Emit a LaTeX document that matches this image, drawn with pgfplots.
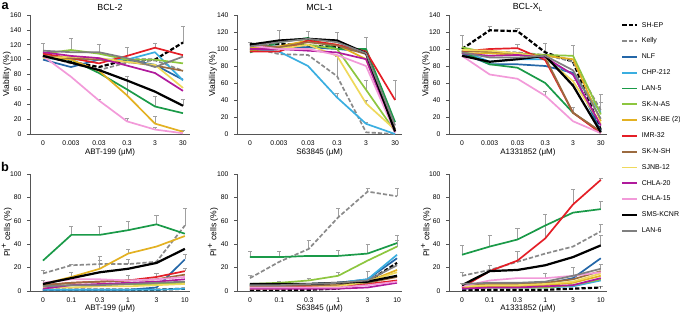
\documentclass[border=0pt]{standalone}
\usepackage{fontspec}
\setmainfont{Liberation Sans}
\usepackage{pgfplots}
\pgfplotsset{compat=1.18}
\definecolor{cNLF}{HTML}{2467A8}
\definecolor{cCHP}{HTML}{3AAEE0}
\definecolor{cLANfive}{HTML}{1A9A48}
\definecolor{cSKNAS}{HTML}{8DC63F}
\definecolor{cSKNBE}{HTML}{E3B122}
\definecolor{cIMR}{HTML}{E41E26}
\definecolor{cSKNSH}{HTML}{9C6B40}
\definecolor{cSJNB}{HTML}{EFD95C}
\definecolor{cCHLAtw}{HTML}{B01A9C}
\definecolor{cCHLAfi}{HTML}{F29AD9}
\definecolor{cLANsix}{HTML}{7F7F7F}
\definecolor{cKelly}{HTML}{8A8A8A}
\definecolor{cAxis}{HTML}{555555}
\definecolor{cErr}{HTML}{A0A0A0}
\pgfplotsset{
  shep/.style={black, line width=1.3pt, dash pattern=on 2.5pt off 1.2pt},
  kelly/.style={cKelly, line width=1pt, dash pattern=on 2.5pt off 1.2pt},
  nlf/.style={cNLF, line width=1pt},
  chp/.style={cCHP, line width=1pt},
  lanfive/.style={cLANfive, line width=1pt},
  sknas/.style={cSKNAS, line width=1pt},
  sknbe/.style={cSKNBE, line width=1pt},
  imr/.style={cIMR, line width=1pt},
  sknsh/.style={cSKNSH, line width=1pt},
  sjnb/.style={cSJNB, line width=1pt},
  chlatw/.style={cCHLAtw, line width=1pt},
  chlafi/.style={cCHLAfi, line width=1pt},
  sms/.style={black, line width=1.3pt},
  lansix/.style={cLANsix, line width=1pt},
  eb/.style={draw=none, forget plot, mark=none,
    error bars/.cd, y dir=plus, y explicit,
    error bar style={draw=cErr, line width=0.35pt, solid},
    error mark options={draw=cErr, rotate=90, mark size=1.2pt, line width=0.35pt, solid}},
  panel/.style={scale only axis, axis x line*=bottom, axis y line*=left,
    axis line style={cAxis, line width=0.4pt},
    xtick={0,...,5}, xtick style={draw=none},
    ytick style={cAxis, line width=0.4pt}, tick align=outside, major tick length=1.5pt,
    tick label style={font=\fontsize{4}{5}\selectfont},
    xticklabel style={yshift=1.3pt},
    /pgf/number format/assume math mode=true,
    clip=false, ymin=0,
    xlabel style={font=\fontsize{4.7}{5.5}\selectfont, at={(axis description cs:0.5,-0.152)}, anchor=center},
    ylabel style={font=\fontsize{5}{6}\selectfont, at={(axis description cs:-0.145,0.5)}, anchor=center},
    every axis title/.style={font=\fontsize{5.2}{6}\selectfont, at={(axis description cs:0.5,1)}, anchor=center, yshift=4.6pt},
    every axis plot/.append style={line join=round}},
  top/.style={panel, height=70pt, ymax=#1, ylabel={Viability (\%)},
    xticklabels={0,0.003,0.03,0.3,3,30}},
  bot/.style={panel, height=68.8pt, ymax=100, ytick={0,20,...,100}, ylabel={PI\textsuperscript{+} cells (\%)},
    xticklabels={0,0.1,0.3,1,3,10}},
}
\begin{document}
\begin{tikzpicture}
\useasboundingbox (0,0) rectangle (400pt,184.12pt);
\node[font=\bfseries\fontsize{7.5}{8}\selectfont] at (3pt,180.8pt) {a};
\node[font=\bfseries\fontsize{7.5}{8}\selectfont] at (3pt,86pt) {b};

% ---------------- BCL-2 viability
\begin{axis}[top=160, at={(17.65pt,105.29pt)}, anchor=south west, width=94.1pt,
  xmin=-0.464, xmax=5.25, ytick={0,20,...,160}, title={BCL-2}, xlabel={ABT-199 (μM)}]
\addplot[eb] coordinates {(0,108) +- (0,14) (1,113) +- (0,16) (2,110) +- (0,10) (3,105) +- (0,12) (4,116) +- (0,6) (5,123) +- (0,22)
 (3,72) +- (0,5) (4,37) +- (0,14) (4,14) +- (0,10) (5,38) +- (0,9) (5,3) +- (0,2) (2,45) +- (0,2) (3,17) +- (0,4) (4,6) +- (0,3) (3,52) +- (0,25)};
\addplot[shep] coordinates {(0,105)(1,97)(2,90)(3,100)(4,100)(5,123)};
\addplot[kelly] coordinates {(0,106)(1,95)(2,86)(3,96)(4,99)(5,85)};
\addplot[nlf] coordinates {(0,100)(1,90)(2,100)(3,100)(4,93)(5,73)};
\addplot[chp] coordinates {(0,102)(1,100)(2,100)(3,100)(4,110)(5,72)};
\addplot[lanfive] coordinates {(0,104)(1,100)(2,82)(3,60)(4,37)(5,28)};
\addplot[sknas] coordinates {(0,108)(1,113)(2,108)(3,100)(4,100)(5,95)};
\addplot[sknbe] coordinates {(0,105)(1,100)(2,85)(3,52)(4,14)(5,3)};
\addplot[imr] coordinates {(0,108)(1,102)(2,95)(3,105)(4,116)(5,106)};
\addplot[sknsh] coordinates {(0,105)(1,102)(2,100)(3,97)(4,92)(5,85)};
\addplot[sjnb] coordinates {(0,102)(1,104)(2,102)(3,97)(4,93)(5,62)};
\addplot[chlatw] coordinates {(0,110)(1,105)(2,102)(3,92)(4,82)(5,58)};
\addplot[chlafi] coordinates {(0,105)(1,77)(2,45)(3,17)(4,6)(5,1)};
\addplot[sms] coordinates {(0,105)(1,96)(2,86)(3,72)(4,57)(5,38)};
\addplot[lansix] coordinates {(0,112)(1,110)(2,110)(3,102)(4,90)(5,104)};
\end{axis}

% ---------------- MCL-1 viability
\begin{axis}[top=140, at={(139.4pt,105.29pt)}, anchor=south west, width=97.1pt,
  xmin=-0.448, xmax=5.24, ytick={0,20,...,140}, title={MCL-1}, xlabel={S63845 (μM)}]
\addplot[eb] coordinates {(0,106) +- (0,2) (1,110) +- (0,12) (2,113) +- (0,8) (3,110) +- (0,10) (4,100) +- (0,14) (5,40) +- (0,23)
 (3,68) +- (0,24) (3,43) +- (0,5) (4,52) +- (0,11) (4,36) +- (0,4) (4,12) +- (0,2)};
\addplot[shep] coordinates {(0,106)(1,106)(2,104)(3,102)(4,97)(5,3)};
\addplot[kelly] coordinates {(0,102)(1,94)(2,93)(3,68)(4,2)(5,0)};
\addplot[nlf] coordinates {(0,104)(1,103)(2,102)(3,100)(4,97)(5,5)};
\addplot[chp] coordinates {(0,100)(1,97)(2,80)(3,43)(4,12)(5,0)};
\addplot[lanfive] coordinates {(0,96)(1,108)(2,113)(3,100)(4,100)(5,14)};
\addplot[sknas] coordinates {(0,98)(1,102)(2,105)(3,100)(4,52)(5,3)};
\addplot[sknbe] coordinates {(0,101)(1,103)(2,110)(3,105)(4,88)(5,3)};
\addplot[imr] coordinates {(0,97)(1,97)(2,110)(3,105)(4,97)(5,40)};
\addplot[sknsh] coordinates {(0,105)(1,102)(2,108)(3,104)(4,94)(5,5)};
\addplot[sjnb] coordinates {(0,100)(1,100)(2,105)(3,92)(4,36)(5,5)};
\addplot[chlatw] coordinates {(0,100)(1,100)(2,98)(3,96)(4,88)(5,2)};
\addplot[chlafi] coordinates {(0,104)(1,100)(2,100)(3,93)(4,80)(5,2)};
\addplot[sms] coordinates {(0,105)(1,110)(2,112)(3,110)(4,95)(5,3)};
\addplot[lansix] coordinates {(0,103)(1,108)(2,112)(3,108)(4,95)(5,10)};
\end{axis}

% ---------------- BCL-XL viability
\begin{axis}[top=140, at={(264.1pt,105.29pt)}, anchor=south west, width=92.9pt,
  xmin=-0.468, xmax=5.22, ytick={0,20,...,140}, title={BCL-X\textsubscript{L}}, xlabel={A1331852 (μM)},
  legend entries={SH-EP, Kelly, NLF, CHP-212, LAN-5, SK-N-AS, SK-N-BE (2), IMR-32, SK-N-SH, SJNB-12, CHLA-20, CHLA-15, SMS-KCNR, LAN-6},
  legend cell align=left,
  legend image code/.code={\draw[#1] (0pt,0pt) -- (8.8pt,0pt);},
  legend style={at={(1.089,0.982)}, anchor=north west, draw=none, fill=none, inner sep=0pt,
    font=\fontsize{4.1}{5}\selectfont, row sep=0.2pt,
    cells={inner sep=0.6pt, text height=3.6pt, text depth=0.9pt}}]
\addplot[eb] coordinates {(0,100) +- (0,16) (1,122) +- (0,5) (2,121) +- (0,3) (3,96) +- (0,11) (4,92) +- (0,12) (5,28) +- (0,19)
 (5,23) +- (0,14) (3,45) +- (0,5) (4,25) +- (0,7) (2,101) +- (0,5) (1,97) +- (0,4) (4,57) +- (0,6)};
\addplot[shep] coordinates {(0,100)(1,122)(2,121)(3,96)(4,85)(5,5)};
\addplot[kelly] coordinates {(0,97)(1,97)(2,96)(3,93)(4,85)(5,28)};
\addplot[nlf] coordinates {(0,95)(1,82)(2,82)(3,80)(4,72)(5,3)};
\addplot[chp] coordinates {(0,98)(1,85)(2,88)(3,88)(4,70)(5,25)};
\addplot[lanfive] coordinates {(0,97)(1,82)(2,78)(3,60)(4,25)(5,2)};
\addplot[sknas] coordinates {(0,102)(1,95)(2,95)(3,93)(4,92)(5,23)};
\addplot[sknbe] coordinates {(0,95)(1,95)(2,93)(3,92)(4,88)(5,15)};
\addplot[imr] coordinates {(0,97)(1,100)(2,101)(3,87)(4,25)(5,1)};
\addplot[sknsh] coordinates {(0,98)(1,97)(2,95)(3,90)(4,25)(5,3)};
\addplot[sjnb] coordinates {(0,99)(1,98)(2,95)(3,90)(4,62)(5,12)};
\addplot[chlatw] coordinates {(0,95)(1,92)(2,93)(3,90)(4,70)(5,10)};
\addplot[chlafi] coordinates {(0,92)(1,70)(2,65)(3,45)(4,15)(5,1)};
\addplot[sms] coordinates {(0,92)(1,85)(2,88)(3,92)(4,57)(5,2)};
\addplot[lansix] coordinates {(0,96)(1,90)(2,90)(3,92)(4,75)(5,18)};
\end{axis}

% ---------------- BCL-2 PI
\begin{axis}[bot, at={(17.65pt,12.94pt)}, anchor=south west, width=94.1pt,
  xmin=-0.458, xmax=5.18, xlabel={ABT-199 (μM)}]
\addplot[eb] coordinates {(0,15) +- (0,3) (0,6) +- (0,3) (1,48) +- (0,7) (1,22) +- (0,1) (1,12) +- (0,4) (2,48) +- (0,7) (2,19) +- (0,11) (2,23) +- (0,3)
 (3,52) +- (0,8) (3,32) +- (0,4) (3,23) +- (0,4) (3,9) +- (0,4) (4,57) +- (0,8) (4,12) +- (0,3) (5,56) +- (0,15) (5,27) +- (0,4) (5,17) +- (0,2)};
\addplot[shep] coordinates {(0,1)(1,1)(2,1)(3,1)(4,1)(5,2)};
\addplot[kelly] coordinates {(0,15)(1,22)(2,23)(3,23)(4,25)(5,56)};
\addplot[nlf] coordinates {(0,1)(1,1)(2,1)(3,1)(4,3)(5,27)};
\addplot[chp] coordinates {(0,1)(1,1)(2,1)(3,1)(4,1)(5,2)};
\addplot[lanfive] coordinates {(0,26)(1,48)(2,48)(3,52)(4,57)(5,49)};
\addplot[sknas] coordinates {(0,4)(1,5)(2,5)(3,6)(4,6)(5,7)};
\addplot[sknbe] coordinates {(0,6)(1,12)(2,19)(3,32)(4,38)(5,47)};
\addplot[imr] coordinates {(0,5)(1,7)(2,8)(3,9)(4,12)(5,17)};
\addplot[sknsh] coordinates {(0,5)(1,7)(2,8)(3,9)(4,10)(5,14)};
\addplot[sjnb] coordinates {(0,3)(1,3)(2,4)(3,4)(4,5)(5,6)};
\addplot[chlatw] coordinates {(0,2)(1,5)(2,6)(3,7)(4,8)(5,10)};
\addplot[chlafi] coordinates {(0,7)(1,10)(2,10)(3,9)(4,10)(5,12)};
\addplot[sms] coordinates {(0,6)(1,11)(2,16)(3,19)(4,24)(5,36)};
\addplot[lansix] coordinates {(0,4)(1,5)(2,5)(3,6)(4,7)(5,8)};
\end{axis}

% ---------------- MCL-1 PI
\begin{axis}[bot, at={(139.4pt,12.94pt)}, anchor=south west, width=97.1pt,
  xmin=-0.44, xmax=5.17, xlabel={S63845 (μM)}]
\addplot[eb] coordinates {(0,29) +- (0,5) (0,11) +- (0,2) (1,29) +- (0,5) (1,6) +- (0,2) (2,36) +- (0,7) (2,9) +- (0,2) (3,63) +- (0,8) (3,30) +- (0,5) (3,13) +- (0,3)
 (4,85) +- (0,3) (4,32) +- (0,8) (4,10) +- (0,7) (5,81) +- (0,7) (5,41) +- (0,7) (5,38) +- (0,5)};
\addplot[shep] coordinates {(0,1)(1,1)(2,1)(3,2)(4,8)(5,24)};
\addplot[kelly] coordinates {(0,11)(1,25)(2,36)(3,63)(4,85)(5,81)};
\addplot[nlf] coordinates {(0,5)(1,5)(2,6)(3,7)(4,10)(5,28)};
\addplot[chp] coordinates {(0,5)(1,6)(2,6)(3,7)(4,10)(5,31)};
\addplot[lanfive] coordinates {(0,29)(1,29)(2,30)(3,30)(4,32)(5,41)};
\addplot[sknas] coordinates {(0,6)(1,7)(2,9)(3,13)(4,26)(5,38)};
\addplot[sknbe] coordinates {(0,3)(1,3)(2,4)(3,5)(4,8)(5,18)};
\addplot[imr] coordinates {(0,4)(1,4)(2,4)(3,4)(4,6)(5,9)};
\addplot[sknsh] coordinates {(0,4)(1,4)(2,5)(3,5)(4,7)(5,12)};
\addplot[sjnb] coordinates {(0,2)(1,2)(2,3)(3,4)(4,8)(5,16)};
\addplot[chlatw] coordinates {(0,2)(1,2)(2,2)(3,2)(4,3)(5,7)};
\addplot[chlafi] coordinates {(0,3)(1,3)(2,3)(3,3)(4,5)(5,8)};
\addplot[sms] coordinates {(0,6)(1,6)(2,6)(3,7)(4,8)(5,13)};
\addplot[lansix] coordinates {(0,5)(1,5)(2,6)(3,7)(4,9)(5,22)};
\end{axis}

% ---------------- BCL-XL PI
\begin{axis}[bot, at={(264.1pt,12.94pt)}, anchor=south west, width=92.9pt,
  xmin=-0.47, xmax=5.22, xlabel={A1331852 (μM)}]
\addplot[eb] coordinates {(0,31) +- (0,8) (0,13) +- (0,3) (0,5) +- (0,2) (1,38) +- (0,10) (1,17) +- (0,5) (2,44) +- (0,10) (2,26) +- (0,8) (2,5) +- (0,2)
 (3,45) +- (0,21) (3,11) +- (0,4) (4,74) +- (0,13) (4,13) +- (0,7) (5,95) +- (0,1) (5,70) +- (0,7) (5,51) +- (0,6) (5,39) +- (0,9) (5,19) +- (0,4) (5,3) +- (0,1)};
\addplot[shep] coordinates {(0,1)(1,1)(2,1)(3,1)(4,2)(5,3)};
\addplot[kelly] coordinates {(0,13)(1,18)(2,25)(3,32)(4,38)(5,51)};
\addplot[nlf] coordinates {(0,3)(1,4)(2,5)(3,6)(4,11)(5,28)};
\addplot[chp] coordinates {(0,2)(1,3)(2,3)(3,3)(4,4)(5,9)};
\addplot[lanfive] coordinates {(0,31)(1,38)(2,44)(3,56)(4,67)(5,70)};
\addplot[sknas] coordinates {(0,3)(1,3)(2,3)(3,3)(4,5)(5,10)};
\addplot[sknbe] coordinates {(0,3)(1,4)(2,4)(3,5)(4,7)(5,13)};
\addplot[imr] coordinates {(0,3)(1,17)(2,26)(3,45)(4,74)(5,95)};
\addplot[sknsh] coordinates {(0,5)(1,6)(2,6)(3,7)(4,10)(5,17)};
\addplot[sjnb] coordinates {(0,4)(1,5)(2,5)(3,6)(4,8)(5,15)};
\addplot[chlatw] coordinates {(0,2)(1,3)(2,3)(3,4)(4,5)(5,11)};
\addplot[chlafi] coordinates {(0,4)(1,9)(2,11)(3,11)(4,13)(5,16)};
\addplot[sms] coordinates {(0,5)(1,17)(2,18)(3,22)(4,29)(5,39)};
\addplot[lansix] coordinates {(0,6)(1,7)(2,7)(3,8)(4,13)(5,19)};
\end{axis}
\end{tikzpicture}
\end{document}
